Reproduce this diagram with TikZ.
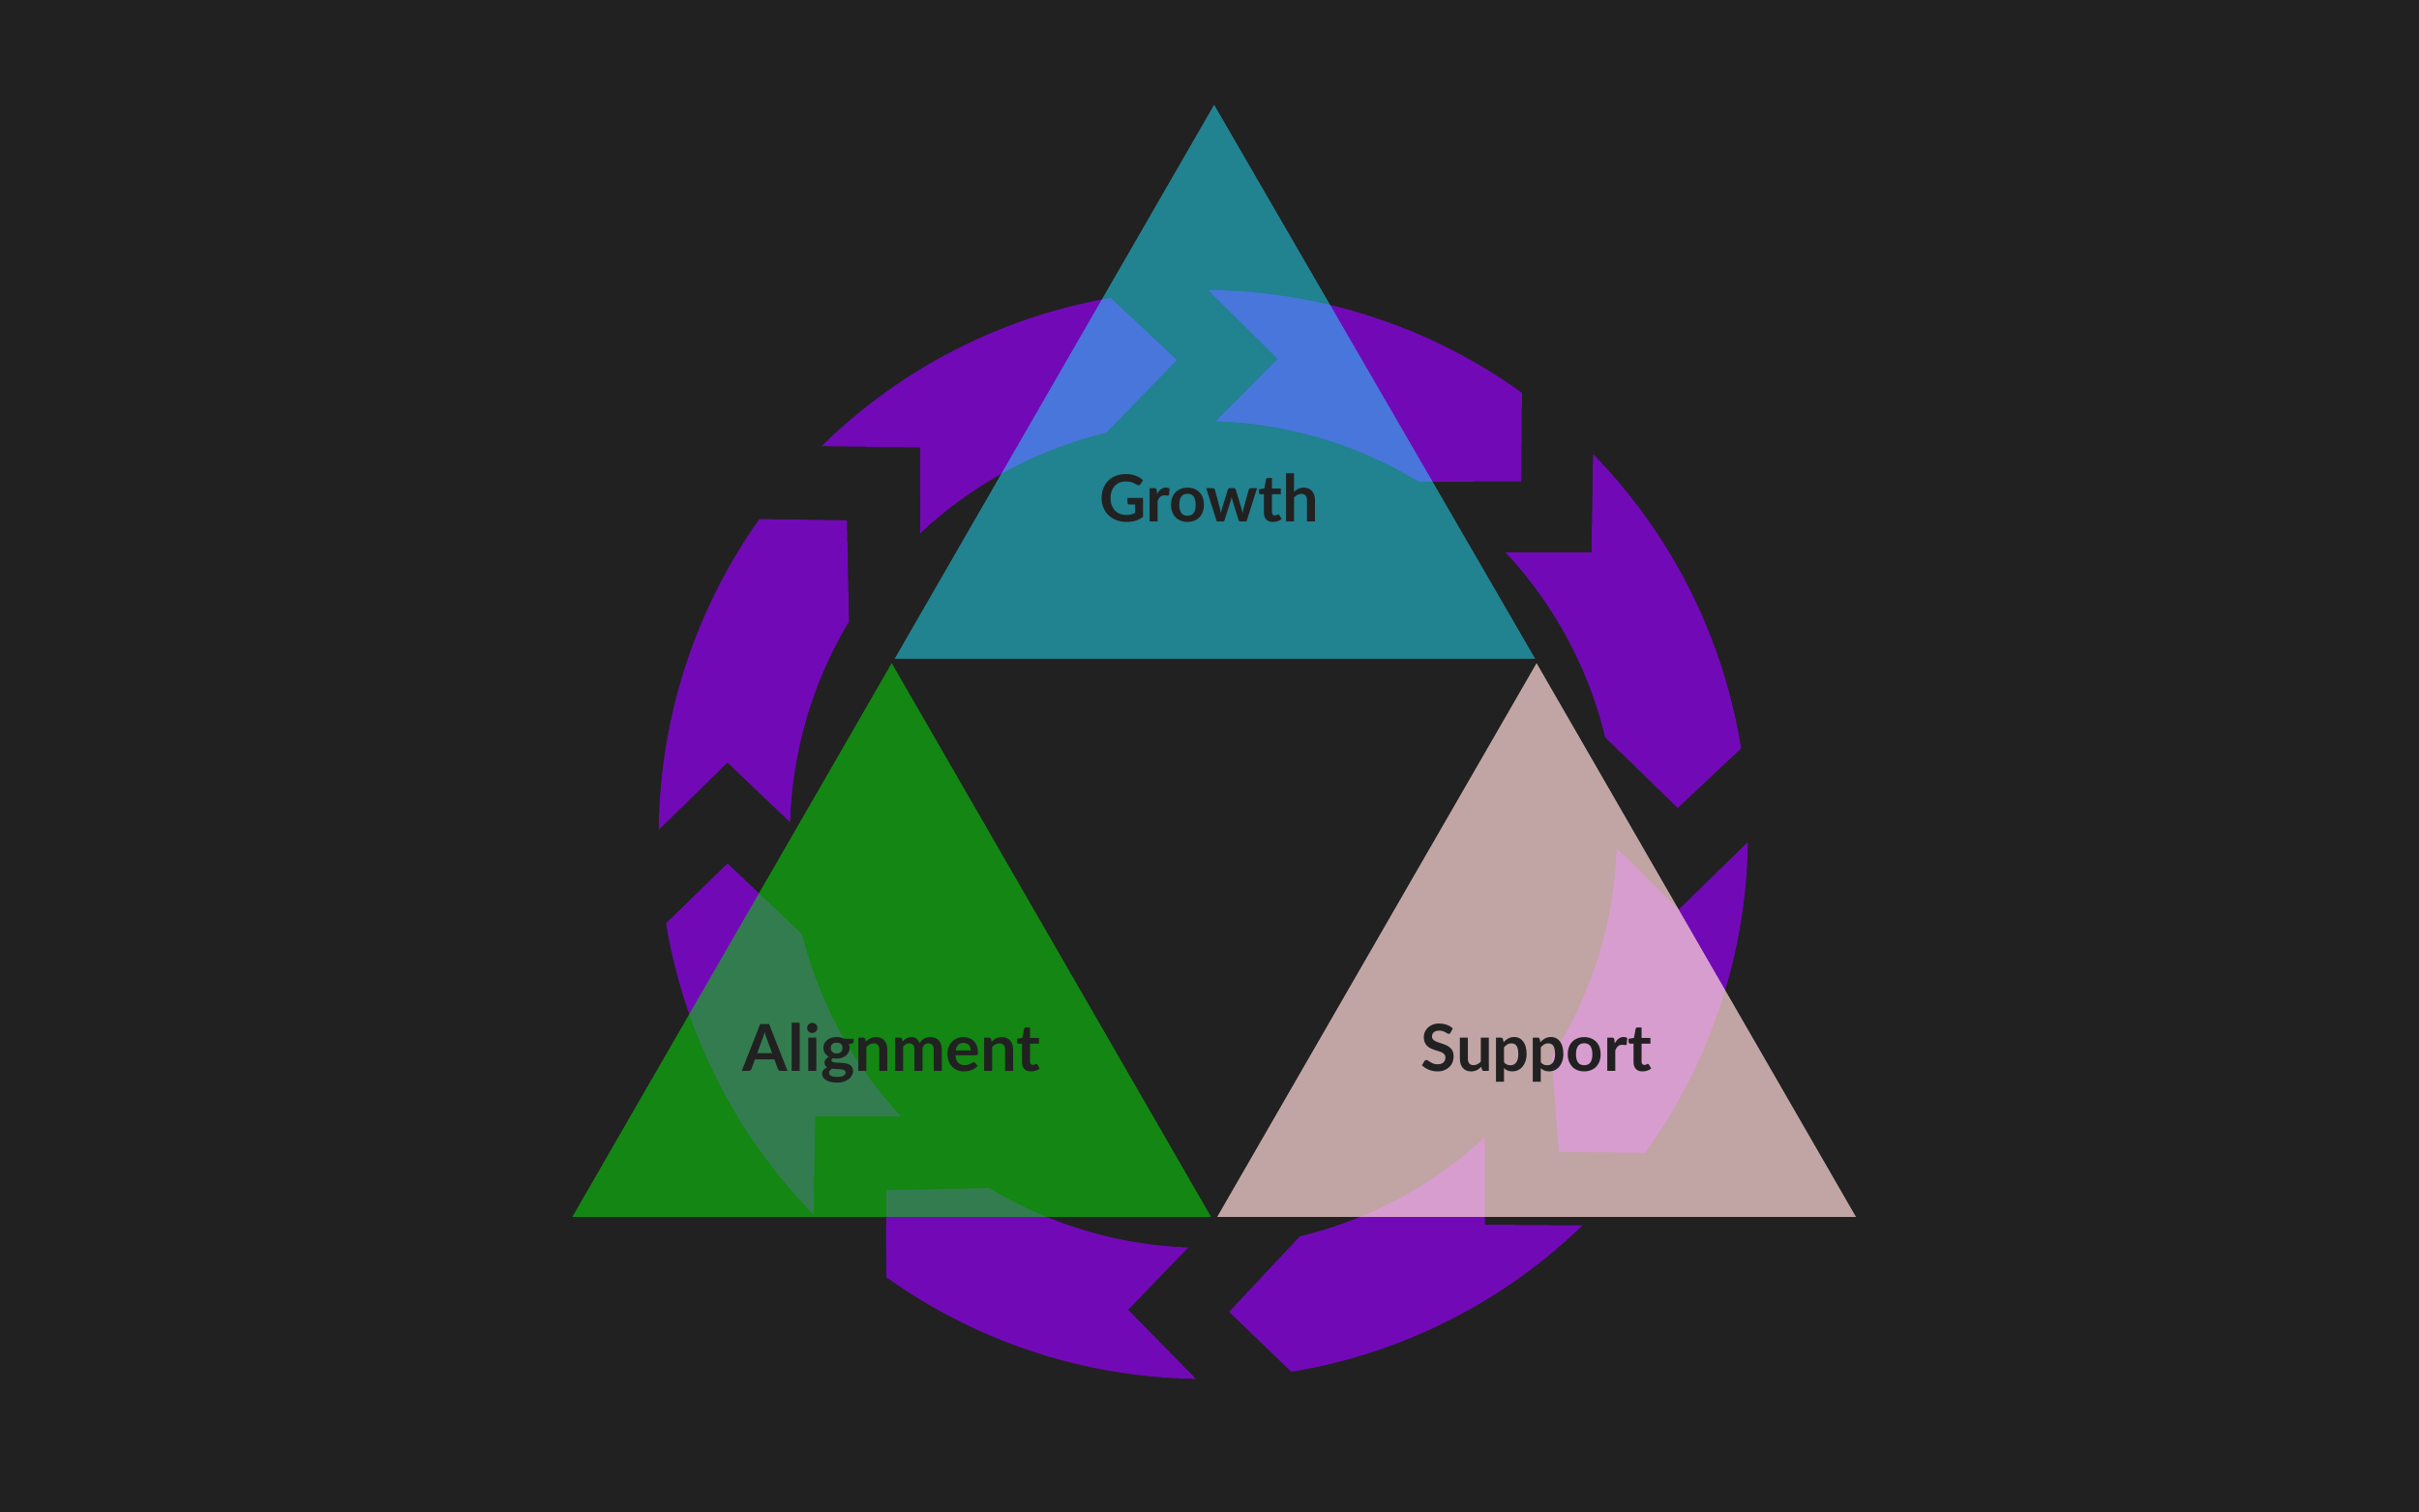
\documentclass[tikz,border=0pt]{standalone}
\usepackage{fontspec}
\setmainfont{Lato}
\definecolor{bg}{HTML}{212121}
\definecolor{arr}{HTML}{7209B7}
\definecolor{tealc}{RGB}{33,227,255}
\definecolor{greenc}{RGB}{10,202,10}
\definecolor{pinkc}{RGB}{255,215,215}
\tikzset{arrowpiece/.style={fill=arr,draw=none},
  tri/.style={draw=none},
  lab/.style={text=bg,font=\fontsize{42}{48}\selectfont\bfseries,inner sep=0pt}}
\begin{document}
\begin{tikzpicture}[x=1pt,y=1pt]
\fill[bg] (0,0) rectangle (1568,-980);
\useasboundingbox (0,0) rectangle (1568,-980);
\begin{scope}[shift={(780,-541)}]
\fill[arrowpiece] (134.5:353pt) arc[start angle=134.5,end angle=99.8,radius=353pt] -- (93.2:308pt) -- (103.6:268pt) arc[start angle=103.6,end angle=133.2,radius=268pt] -- (126.2:311pt) -- cycle;
\fill[arrowpiece] (89.5:353pt) arc[start angle=89.5,end angle=54.2,radius=353pt] -- (48:308pt) -- (58.6:268pt) arc[start angle=58.6,end angle=88.3,radius=268pt] -- (81.1:312pt) -- cycle;
\fill[arrowpiece] (44.3:353pt) arc[start angle=44.3,end angle=9.1,radius=353pt] -- (3.2:308pt) -- (13.6:268pt) arc[start angle=13.6,end angle=43,radius=268pt] -- (36:311pt) -- cycle;
\fill[arrowpiece] (-0.8:353pt) arc[start angle=-0.8,end angle=-35.8,radius=353pt] -- (-41.8:309pt) -- (-32.6:268pt) arc[start angle=-32.6,end angle=-1.9,radius=268pt] -- (-9:312pt) -- cycle;
\fill[arrowpiece] (-45.9:353pt) arc[start angle=-45.9,end angle=-80.7,radius=353pt] -- (-86.9:310pt) -- (-76.5:268pt) arc[start angle=-76.5,end angle=-47.1,radius=268pt] -- (-54.2:312pt) -- cycle;
\fill[arrowpiece] (-90.8:353pt) arc[start angle=-90.8,end angle=-125.6,radius=353pt] -- (-131.7:309pt) -- (-121.2:268pt) arc[start angle=-121.2,end angle=-92.1,radius=268pt] -- (-99:312pt) -- cycle;
\fill[arrowpiece] (-135.7:353pt) arc[start angle=-135.7,end angle=-170.6,radius=353pt] -- (-176.5:309pt) -- (-166:268pt) arc[start angle=-166,end angle=-137,radius=268pt] -- (-144:311pt) -- cycle;
\fill[arrowpiece] (179.5:353pt) arc[start angle=179.5,end angle=144.6,radius=353pt] -- (138.6:308pt) -- (149:268pt) arc[start angle=149,end angle=178.3,radius=268pt] -- (171.4:312pt) -- cycle;
\end{scope}
\fill[tri,tealc,fill opacity=0.5] (787,-68) -- (995,-427) -- (580,-427) -- cycle;
\fill[tri,greenc,fill opacity=0.6] (578,-430) -- (785,-789) -- (371,-789) -- cycle;
\fill[tri,pinkc,fill opacity=0.72] (996,-430) -- (1203,-789) -- (789,-789) -- cycle;
\node[lab] (g) at (784,-323) {Growth};
\node[lab] (a) at (578,-683) {Alignment};
\node[lab] (s) at (996,-683) {Support};
\end{tikzpicture}
\end{document}
